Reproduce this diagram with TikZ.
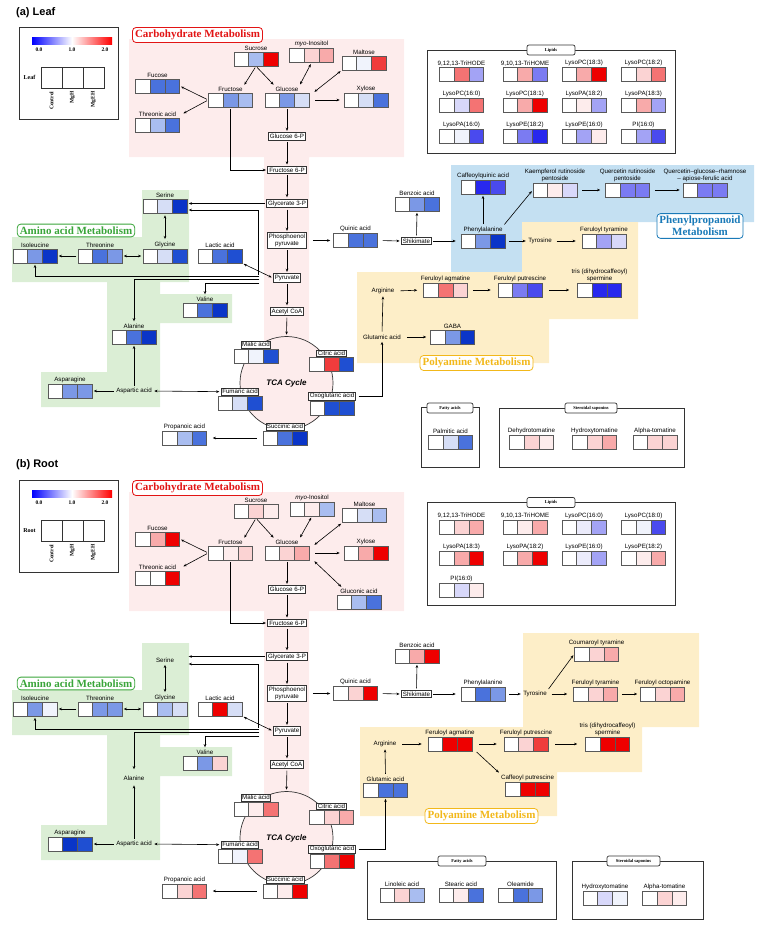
\documentclass[tikz,border=0pt]{standalone}
\usepackage{fontspec}
\setmainfont{Liberation Sans}
\newfontfamily\serifbf{Liberation Serif}
\usetikzlibrary{arrows.meta,positioning,calc}

% background and text colours
\definecolor{pinkbg}{RGB}{253,236,236}
\definecolor{greenbg}{RGB}{219,238,213}
\definecolor{bluebg}{RGB}{196,224,242}
\definecolor{yellowbg}{RGB}{253,238,200}
\definecolor{carbred}{RGB}{226,20,20}
\definecolor{aminogreen}{RGB}{58,165,58}
\definecolor{phenblue}{RGB}{26,122,184}
\definecolor{polyyellow}{RGB}{242,184,26}
% heat map colours
\definecolor{hp1}{RGB}{240,243,252}
\definecolor{hb1}{RGB}{214,222,246}
\definecolor{hb2}{RGB}{169,189,240}
\definecolor{hb3}{RGB}{123,152,230}
\definecolor{hb4}{RGB}{74,114,220}
\definecolor{hb5}{RGB}{31,79,210}
\definecolor{hb6}{RGB}{10,53,200}
\definecolor{hv0}{RGB}{235,235,251}
\definecolor{hv1}{RGB}{216,216,250}
\definecolor{hv2}{RGB}{163,163,245}
\definecolor{hv3}{RGB}{123,123,242}
\definecolor{hv4}{RGB}{74,74,238}
\definecolor{hv5}{RGB}{40,40,238}
\definecolor{hr1}{RGB}{253,236,236}
\definecolor{hr2}{RGB}{251,211,211}
\definecolor{hr3}{RGB}{248,170,170}
\definecolor{hr4}{RGB}{244,115,115}
\definecolor{hr5}{RGB}{240,60,60}
\definecolor{hr6}{RGB}{238,0,0}

% heat map strip: [label style]{name}{x,y}{c1}{c2}{c3}{label}
\newcommand{\hm}[7][lbl]{%
  \fill[#4] ($(#3)+(-22,-7)$) rectangle ++(14.67,14);
  \fill[#5] ($(#3)+(-7.33,-7)$) rectangle ++(14.67,14);
  \fill[#6] ($(#3)+(7.33,-7)$) rectangle ++(14.67,14);
  \draw[hmline] ($(#3)+(-7.33,-7)$) -- ++(0,14) ($(#3)+(7.33,-7)$) -- ++(0,14);
  \node[hmstrip] (#2) at (#3) {};
  \node[#1, above=0.4pt of #2] (#2-l) {#7};
}

\begin{document}
\begin{tikzpicture}[x=1pt,y=-1pt,
    >={Stealth[length=3.2pt,width=2.6pt]},
    lbl/.style={font=\fontsize{6.2}{6.8}\selectfont, inner sep=0.8pt, align=center},
    hmstrip/.style={draw=black!65, line width=0.5pt, minimum width=44pt, minimum height=14pt, inner sep=0pt},
    hmline/.style={draw=black!65, line width=0.5pt},
    metbox/.style={lbl, draw=black!80, fill=white, line width=0.8pt, inner sep=1.4pt},
    tcabox/.style={metbox, inner sep=1pt},
    tcacircle/.style={circle, draw=black!80, line width=0.7pt, fill=pinkbg, minimum size=93pt, inner sep=0pt,
      font=\bfseries\itshape\fontsize{8}{9}\selectfont},
    arr/.style={->, line width=0.6pt, shorten >=1.5pt, shorten <=1.5pt},
    darr/.style={<->, line width=0.6pt, shorten >=1.5pt, shorten <=1.5pt},
    grouptitle/.style={draw, fill=white, rounded corners=3.5pt, line width=0.8pt, inner sep=2.5pt, align=center,
      font=\serifbf\bfseries\fontsize{11}{12}\selectfont},
    boxtab/.style={draw=black!80, fill=white, rounded corners=2pt, line width=0.7pt, minimum height=10pt, inner sep=1pt,
      font=\serifbf\bfseries\fontsize{4.5}{5}\selectfont},
    framebox/.style={draw=black!80, line width=0.8pt, inner sep=0pt},
    panel/.style={font=\bfseries\fontsize{11}{13}\selectfont, anchor=west, inner sep=0pt},
    legtick/.style={font=\serifbf\bfseries\fontsize{5.5}{6}\selectfont, inner sep=0.5pt}]
\useasboundingbox (0,0) rectangle (763,932);

%%%%%%%%%%%%%%%% (a) Leaf %%%%%%%%%%%%%%%%
\node[panel] (tita) at (16,13) {(a) Leaf};

% legend
\node[framebox, minimum width=99pt, minimum height=92pt] (lega) at (68.5,73) {};
\shade[left color=blue, right color=red, middle color=white] (32,37) rectangle (112,44);
\node[legtick] (lega-0) at (39,49.5) {0.0};
\node[legtick] (lega-1) at (72,49.5) {1.0};
\node[legtick] (lega-2) at (105,49.5) {2.0};
\foreach \i in {0,1,2} \draw[black!80, line width=0.6pt] ({41+21*\i},67) rectangle ++(21,21);
\node[legtick, font=\serifbf\bfseries\fontsize{6}{7}\selectfont] (lega-t) at (29.5,77.5) {Leaf};
\foreach \lname [count=\i from 0] in {Control,MgH,MgEH}
  \node[legtick, rotate=90, anchor=east] (lega-c\i) at ({51.5+21*\i},91) {\lname};

% pathway regions
\fill[pinkbg] (129,39) rectangle (404,157) (264,157) rectangle (309,350);
\fill[greenbg] (12,237) rectangle (189,282) (142,190) rectangle (189,237) (107,282) rectangle (160,407)
  (160,294) rectangle (232,323) (41,372) rectangle (107,407);
\fill[bluebg] (451,165) rectangle (754,222) (451,222) rectangle (522,272);
\fill[yellowbg] (522,222) -- (638,222) -- (638,319) -- (549,319) -- (549,363) -- (357,363) -- (357,272) -- (522,272) -- cycle;

% carbohydrates
\hm{sucra}{256,59}{white}{hb2}{hr6}{Sucrose}
\hm{myoa}{311.5,55.5}{white}{hr2}{hr3}{{\itshape myo}-Inositol}
\hm{malta}{364,63}{white}{hp1}{hr5}{Maltose}
\hm{fuca}{157.5,86}{white}{hb4}{hb4}{Fucose}
\hm{fruca}{230.5,100}{white}{hb3}{hb2}{Fructose}
\hm{gluca}{287,100}{white}{hb3}{hb1}{Glucose}
\hm{xyla}{366,100}{white}{hb1}{hb4}{Xylose}
\hm{threa}{157.5,125}{white}{hb2}{hb4}{Threonic acid}
\node[metbox] (g6pa) at (287,136.5) {Glucose 6-P};
\node[metbox] (f6pa) at (287,170) {Fructose 6-P};
\node[metbox] (g3pa) at (287,203.5) {Glycerate 3-P};
\node[metbox] (pepa) at (287,240.5) {Phosphoenol\\pyruvate};
\node[metbox] (pyra) at (287,278) {Pyruvate};
\node[metbox] (acoa) at (287,311.5) {Acetyl CoA};
\coordinate (pyra-o) at ([xshift=-12pt]pyra.west);

% TCA cycle
\node[tcacircle] (tcaa) at (286.5,383) {TCA Cycle};
\hm[tcabox]{malia}{256,356}{white}{hp1}{hb5}{Malic acid}
\hm[tcabox]{cita}{331.5,364.5}{white}{hr5}{hb5}{Citric acid}
\hm[tcabox]{fuma}{240,403}{white}{hb1}{hb5}{Fumaric acid}
\hm[tcabox]{oxoa}{332,408}{white}{hb5}{hb5}{Oxoglutaric acid}
\hm[tcabox]{succa}{285,438}{white}{hb4}{hb6}{Succinic acid}
\hm{propa}{184.5,438}{white}{hb2}{hb4}{Propanoic acid}

% amino acids
\hm{sera}{165,206.5}{white}{hb1}{hb6}{Serine}
\hm{glya}{165,256}{white}{hb1}{hb5}{Glycine}
\hm{thra}{100,256}{white}{hb4}{hb3}{Threonine}
\hm{ilea}{35,256}{white}{hb3}{hb6}{Isoleucine}
\hm{laca}{220,256}{white}{hb4}{hb5}{Lactic acid}
\hm{vala}{205,310}{white}{hb4}{hb6}{Valine}
\hm{alaa}{134,337}{white}{hb4}{hb6}{Alanine}
\hm{asna}{70,391}{white}{hb3}{hb3}{Asparagine}
\node[lbl] (aspa) at (134,391) {Aspartic acid};

% shikimate and phenylpropanoids
\hm{quina}{355.5,240.5}{white}{hb4}{hb4}{Quinic acid}
\node[metbox] (shika) at (416.5,241) {Shikimate};
\hm{benza}{417,204}{white}{hb3}{hb4}{Benzoic acid}
\hm{phea}{483,241}{white}{hb3}{hb6}{Phenylalanine}
\hm{caffa}{483,187}{white}{hv5}{hv4}{Caffeoylquinic acid}
\hm{kaema}{555,190}{white}{hr1}{hv1}{Kaempferol rutinoside\\pentoside}
\hm{quera}{627.5,190}{white}{hv3}{hv3}{Quercetin rutinoside\\pentoside}
\hm{qgra}{705,190}{white}{hv3}{hv3}{Quercetin--glucose--rhamnose\\-- apiose-ferulic acid}
\node[lbl] (tyra) at (540,241) {Tyrosine};
\hm{fetya}{604,241}{white}{hv2}{hv1}{Feruloyl tyramine}

% polyamines
\node[lbl] (arga) at (383,291) {Arginine};
\hm{feaga}{445.5,290}{white}{hr4}{hr2}{Feruloyl agmatine}
\hm{fepua}{520,290}{white}{hv3}{hv4}{Feruloyl putrescine}
\hm{trisa}{599.5,290}{white}{hv5}{hv5}{tris (dihydrocaffeoyl)\\spermine}
\node[lbl] (glua) at (382,337) {Glutamic acid};
\hm{gabaa}{452.5,337}{white}{hb3}{hb6}{GABA}

% group titles
\node[grouptitle, draw=carbred, text=carbred] (carba) at (197.5,35) {Carbohydrate Metabolism};
\node[grouptitle, draw=aminogreen, text=aminogreen] (aminoa) at (76,230.5) {Amino acid Metabolism};
\node[grouptitle, draw=phenblue, text=phenblue] (phena) at (700,226) {Phenylpropanoid\\Metabolism};
\node[grouptitle, draw=polyyellow, text=polyyellow] (polya) at (476.5,363) {Polyamine Metabolism};

% lipids
\node[framebox, minimum width=248pt, minimum height=103pt] (lipa) at (551,101.5) {};
\node[boxtab, minimum width=48pt] (lipa-t) at (551,50) {Lipids};
\hm{hodea}{461.5,74.5}{white}{hr4}{hv2}{9,12,13-TriHODE}
\hm{homea}{525,74.5}{white}{hr3}{hv3}{9,10,13-TriHOME}
\hm{pcaa}{584,74.5}{white}{hr3}{hr6}{LysoPC(18:3)}
\hm{pcba}{643.5,74.5}{white}{hr2}{hr4}{LysoPC(18:2)}
\hm{pcca}{461.5,105}{white}{hv1}{hr4}{LysoPC(16:0)}
\hm{pcda}{525,105}{white}{hr3}{hr6}{LysoPC(18:1)}
\hm{paaa}{584,105}{white}{hr1}{hv2}{LysoPA(18:2)}
\hm{paba}{643.5,105}{white}{hr3}{hv2}{LysoPA(18:3)}
\hm{paca}{461.5,136.5}{white}{hp1}{hv4}{LysoPA(16:0)}
\hm{peaa}{525,136.5}{white}{hv3}{hv5}{LysoPE(18:2)}
\hm{peba}{584,136.5}{white}{hv2}{hr1}{LysoPE(16:0)}
\hm{pia}{643.5,136.5}{white}{hv2}{hv4}{PI(16:0)}

% fatty acids and saponins
\node[framebox, minimum width=58pt, minimum height=60pt] (fata) at (450,437) {};
\node[boxtab, minimum width=46pt] (fata-t) at (450,408) {Fatty acids};
\hm{palma}{450.5,442}{white}{hb1}{hb4}{Palmitic acid}
\node[framebox, minimum width=185pt, minimum height=59pt] (stera) at (591.5,437.5) {};
\node[boxtab, minimum width=52pt] (stera-t) at (591,408) {Steroidal saponins};
\hm{dehya}{531.5,442}{white}{hr2}{hr1}{Dehydrotomatine}
\hm{hydra}{594.5,442}{white}{hr2}{hr3}{Hydroxytomatine}
\hm{alpta}{655,442}{white}{hr2}{hr2}{Alpha-tomatine}

% connectors
\draw[arr] (sucra.south) -- (fruca-l.north east);
\draw[arr] (sucra.south) -- (gluca-l.north west);
\draw[darr] (gluca-l.north east) -- (myoa.south);
\draw[darr] ([xshift=4pt]gluca.north east) -- (malta.south west);
\draw[arr, shorten <=6pt, shorten >=4pt] (gluca.east) -- (xyla.west);
\draw[arr] (fruca.west) -- (fuca.east);
\draw[arr] (fruca.west) -- ([xshift=5pt]threa-l.east);
\draw[arr] (gluca.south) -- (g6pa.north);
\draw[arr] (fruca.south) |- (f6pa.west);
\draw[arr] (g6pa) -- (f6pa);
\draw[arr] (f6pa) -- (g3pa);
\draw[arr] (g3pa) -- (pepa);
\draw[arr] (pepa) -- (pyra);
\draw[arr] (pyra) -- (acoa);
\draw[arr] (acoa) -- (tcaa.north);
\draw[arr] (g3pa.west) -- (g3pa.west -| sera.east);
\draw[arr] ([xshift=-3pt,yshift=2pt]pyra-o) |- ([yshift=-3.5pt]sera.east);
\draw[arr] ([yshift=2pt]pyra-o) -| (ilea.south);
\draw[arr] ([yshift=-1.5pt]pyra-o) -| (alaa-l.north);
\draw[arr] ([yshift=-5pt]pyra-o) -| (vala-l.north);
\draw[darr] (laca.south east) -- (pyra.west);
\draw[darr] (sera.south) -- (glya-l.north);
\draw[darr] (glya.west) -- (thra.east);
\draw[arr] (thra.west) -- (ilea.east);
\draw[arr] (aspa.north) -- (alaa.south);
\draw[arr] (aspa.west) -- (asna.east);
\draw[darr] (aspa.east) -- (fuma-l.west);
\draw[arr, shorten <=6pt, shorten >=6pt] (succa.west) -- (propa.east);
\draw[arr, shorten <=6pt, shorten >=3pt] (pepa.east) -- (quina.west);
\draw[arr, shorten <=5pt] (quina.east) -- (shika.west);
\draw[arr] (shika.north) -- (benza.south);
\draw[arr, shorten >=5pt] (shika.east) -- (phea.west);
\draw[arr] (phea-l.north) -- (caffa.south);
\draw[arr] (phea-l.north east) -- (kaema.west);
\draw[arr, shorten <=5pt, shorten >=5pt] (kaema.east) -- (quera.west);
\draw[arr, shorten <=5pt, shorten >=3pt] (quera.east) -- (qgra.west);
\draw[arr, shorten <=4pt] (phea.east) -- (tyra.west);
\draw[arr, shorten <=4pt, shorten >=6pt] (tyra.east) -- (fetya.west);
\draw[arr, shorten <=5pt, shorten >=6pt] (arga.east) -- (feaga.west);
\draw[arr, shorten <=5pt, shorten >=7pt] (feaga.east) -- (fepua.west);
\draw[arr, shorten <=7pt, shorten >=8pt] (fepua.east) -- (trisa.west);
\draw[arr, shorten <=2pt] (glua.north) -- (arga.south);
\draw[arr, shorten <=5pt, shorten >=4pt] (glua.east) -- (gabaa.west);
\draw[arr, shorten <=3pt] (oxoa-l.east) -| (glua.south);

%%%%%%%%%%%%%%%% (b) Root %%%%%%%%%%%%%%%%
\begin{scope}[yshift=-453pt]
\node[panel] (titb) at (16,12) {(b) Root};

% legend
\node[framebox, minimum width=99pt, minimum height=92pt] (legb) at (68.5,73) {};
\shade[left color=blue, right color=red, middle color=white] (32,37) rectangle (112,44);
\node[legtick] (legb-0) at (39,49.5) {0.0};
\node[legtick] (legb-1) at (72,49.5) {1.0};
\node[legtick] (legb-2) at (105,49.5) {2.0};
\foreach \i in {0,1,2} \draw[black!80, line width=0.6pt] ({41+21*\i},67) rectangle ++(21,21);
\node[legtick, font=\serifbf\bfseries\fontsize{6}{7}\selectfont] (legb-t) at (29.5,77.5) {Root};
\foreach \lname [count=\i from 0] in {Control,MgH,MgEH}
  \node[legtick, rotate=90, anchor=east] (legb-c\i) at ({51.5+21*\i},91) {\lname};

% pathway regions
\fill[pinkbg] (129,39) rectangle (404,158) (264,158) rectangle (309,350);
\fill[greenbg] (12,237) rectangle (189,282) (142,190) rectangle (189,237) (107,282) rectangle (160,407)
  (160,294) rectangle (232,323) (41,372) rectangle (107,407);
\fill[yellowbg] (523,180) -- (699,180) -- (699,274) -- (642,274) -- (642,319) -- (557,319) -- (557,363)
  -- (360,363) -- (360,274) -- (523,274) -- cycle;

% carbohydrates
\hm{sucrb}{256,58}{white}{hr2}{hr1}{Sucrose}
\hm{myob}{312,56}{white}{hr1}{hb2}{{\itshape myo}-Inositol}
\hm{maltb}{364.5,62.5}{white}{hb1}{hb2}{Maltose}
\hm{fucb}{157.5,86}{white}{hr3}{hr6}{Fucose}
\hm{frucb}{230.5,100}{white}{hr1}{hr2}{Fructose}
\hm{glucb}{287,100}{white}{hr2}{hr3}{Glucose}
\hm{xylb}{366,100}{white}{hr3}{hr6}{Xylose}
\hm{threb}{157.5,125}{white}{white}{hr6}{Threonic acid}
\hm{glcnb}{359,149}{white}{hb2}{hb4}{Gluconic acid}
\node[metbox] (g6pb) at (287,136.5) {Glucose 6-P};
\node[metbox] (f6pb) at (287,170) {Fructose 6-P};
\node[metbox] (g3pb) at (287,203.5) {Glycerate 3-P};
\node[metbox] (pepb) at (287,240.5) {Phosphoenol\\pyruvate};
\node[metbox] (pyrb) at (287,278) {Pyruvate};
\node[metbox] (acob) at (287,311.5) {Acetyl CoA};
\coordinate (pyrb-o) at ([xshift=-12pt]pyrb.west);

% TCA cycle
\node[tcacircle] (tcab) at (286.5,385) {TCA Cycle};
\hm[tcabox]{malib}{256,356}{white}{hr1}{hr4}{Malic acid}
\hm[tcabox]{citb}{331.5,364.5}{white}{hr2}{hr3}{Citric acid}
\hm[tcabox]{fumb}{240,403}{white}{hp1}{hr4}{Fumaric acid}
\hm[tcabox]{oxob}{332,408}{white}{hr4}{hr6}{Oxoglutaric acid}
\hm[tcabox]{succb}{285,438}{white}{hr1}{hr6}{Succinic acid}
\hm{propb}{184.5,438}{white}{hr2}{hr4}{Propanoic acid}

% amino acids
\node[lbl, minimum width=44pt] (serb) at (165,207) {Serine};
\hm{glyb}{165,256}{white}{hb2}{hb1}{Glycine}
\hm{thrb}{100,256}{white}{hb3}{hb3}{Threonine}
\hm{ileb}{35,256}{white}{hb3}{hp1}{Isoleucine}
\hm{lacb}{220,256}{white}{hr6}{hb1}{Lactic acid}
\hm{valb}{205,310}{white}{hb3}{hr2}{Valine}
\node[lbl] (alab) at (134,325) {Alanine};
\hm{asnb}{70,391}{white}{hb6}{hb5}{Asparagine}
\node[lbl] (aspb) at (134,391) {Aspartic acid};

% shikimate and phenylpropanoids
\hm{quinb}{355.5,240.5}{white}{hr2}{hr6}{Quinic acid}
\node[metbox] (shikb) at (416.5,241) {Shikimate};
\hm{benzb}{417,203}{white}{hr3}{hr6}{Benzoic acid}
\hm{pheb}{483,241}{white}{hb4}{hb3}{Phenylalanine}
\node[lbl] (tyrb) at (535,241) {Tyrosine};
\hm{cotyb}{596.5,201}{white}{hr2}{hr3}{Coumaroyl tyramine}
\hm{fetyb}{595.5,241}{white}{hr2}{hr3}{Feruloyl tyramine}
\hm{feocb}{662.5,241}{white}{hr2}{hr3}{Feruloyl octopamine}

% polyamines
\node[lbl] (argb) at (385,291) {Arginine};
\hm{feagb}{450,291}{white}{hr6}{hr6}{Feruloyl agmatine}
\hm{fepub}{526,291}{white}{hr2}{hr5}{Feruloyl putrescine}
\hm{trisb}{607.5,291}{white}{hr6}{hr6}{tris (dihydrocaffeoyl)\\spermine}
\hm{capub}{527.5,336}{white}{hr6}{hr6}{Caffeoyl putrescine}
\hm{glub}{385.5,337}{white}{hb4}{hb4}{Glutamic acid}

% group titles
\node[grouptitle, draw=carbred, text=carbred] (carbb) at (197.5,35) {Carbohydrate Metabolism};
\node[grouptitle, draw=aminogreen, text=aminogreen] (aminob) at (76,230.5) {Amino acid Metabolism};
\node[grouptitle, draw=polyyellow, text=polyyellow] (polyb) at (481.5,363) {Polyamine Metabolism};

% lipids
\node[framebox, minimum width=248pt, minimum height=103pt] (lipb) at (551,101) {};
\node[boxtab, minimum width=48pt] (lipb-t) at (551,49.5) {Lipids};
\hm{hodeb}{461.5,74}{white}{hr2}{hr3}{9,12,13-TriHODE}
\hm{homeb}{525,74}{white}{hr1}{hr3}{9,10,13-TriHOME}
\hm{pcab}{584,74}{white}{hv0}{hv2}{LysoPC(16:0)}
\hm{pcbb}{643.5,74}{white}{hp1}{hv4}{LysoPC(18:0)}
\hm{paab}{461.5,105.5}{white}{hr3}{hr6}{LysoPA(18:3)}
\hm{pabb}{525,105.5}{white}{hr3}{hr6}{LysoPA(18:2)}
\hm{peab}{584,105.5}{white}{hv0}{hv2}{LysoPE(16:0)}
\hm{pebb}{643.5,105.5}{white}{hr1}{hr3}{LysoPE(18:2)}
\hm{pib}{461.5,137}{white}{hv1}{hr1}{PI(16:0)}

% fatty acids and saponins
\node[framebox, minimum width=189pt, minimum height=58pt] (fatb) at (461.5,437) {};
\node[boxtab, minimum width=48pt] (fatb-t) at (462,408) {Fatty acids};
\hm{linob}{402,442}{white}{hr2}{hb2}{Linoleic acid}
\hm{steab}{461,442}{white}{hr1}{hb4}{Stearic acid}
\hm{oleab}{520.5,442}{white}{hb4}{hb3}{Oleamide}
\node[framebox, minimum width=131pt, minimum height=58pt] (sterb) at (637.5,437) {};
\node[boxtab, minimum width=53pt] (sterb-t) at (633.5,408) {Steroidal saponins};
\hm{hydrb}{605,445}{white}{hv1}{hp1}{Hydroxytomatine}
\hm{alptb}{664.5,445}{white}{hr2}{hr1}{Alpha-tomatine}

% connectors
\draw[arr] (sucrb.south) -- (frucb-l.north east);
\draw[arr] (sucrb.south) -- (glucb-l.north west);
\draw[darr] (glucb-l.north east) -- (myob.south);
\draw[darr] ([xshift=4pt]glucb.north east) -- (maltb.south west);
\draw[arr, shorten <=6pt, shorten >=4pt] (glucb.east) -- (xylb.west);
\draw[darr] ([xshift=4pt]glucb.south east) -- ([xshift=3pt]glcnb-l.north west);
\draw[arr] (frucb.west) -- (fucb.east);
\draw[arr] (frucb.west) -- ([xshift=5pt]threb-l.east);
\draw[arr] (glucb.south) -- (g6pb.north);
\draw[arr] (frucb.south) |- (f6pb.west);
\draw[arr] (g6pb) -- (f6pb);
\draw[arr] (f6pb) -- (g3pb);
\draw[arr] (g3pb) -- (pepb);
\draw[arr] (pepb) -- (pyrb);
\draw[arr] (pyrb) -- (acob);
\draw[arr] (acob) -- (tcab.north);
\draw[arr] (g3pb.west) -- (g3pb.west -| serb.east);
\draw[arr] ([xshift=-3pt,yshift=2pt]pyrb-o) |- ([yshift=-4pt]serb.east);
\draw[arr] ([yshift=2pt]pyrb-o) -| (ileb.south);
\draw[arr] ([yshift=-1.5pt]pyrb-o) -| ([yshift=4pt]alab.north);
\draw[arr] ([yshift=-5pt]pyrb-o) -| (valb-l.north);
\draw[darr] (lacb.south east) -- (pyrb.west);
\draw[darr] (serb.south) -- (glyb-l.north);
\draw[darr] (glyb.west) -- (thrb.east);
\draw[arr] (thrb.west) -- (ileb.east);
\draw[arr, shorten >=4pt] (aspb.north) -- (alab.south);
\draw[arr] (aspb.west) -- (asnb.east);
\draw[darr] (aspb.east) -- (fumb-l.west);
\draw[arr, shorten <=6pt, shorten >=6pt] (succb.west) -- (propb.east);
\draw[arr, shorten <=6pt, shorten >=3pt] (pepb.east) -- (quinb.west);
\draw[arr, shorten <=5pt] (quinb.east) -- (shikb.west);
\draw[arr] (shikb.north) -- (benzb.south);
\draw[arr, shorten >=5pt] (shikb.east) -- (pheb.west);
\draw[arr, shorten <=4pt] (pheb.east) -- (tyrb.west);
\draw[arr] (tyrb.north east) -- (cotyb.west);
\draw[arr, shorten <=4pt, shorten >=6pt] (tyrb.east) -- (fetyb.west);
\draw[arr, shorten <=4pt, shorten >=3pt] (fetyb.east) -- (feocb.west);
\draw[arr, shorten <=5pt, shorten >=6pt] (argb.east) -- (feagb.west);
\draw[arr, shorten <=7pt, shorten >=7pt] (feagb.east) -- (fepub.west);
\draw[arr, shorten <=7pt, shorten >=8pt] (fepub.east) -- (trisb.west);
\draw[arr, shorten <=6pt] ([yshift=-4pt]feagb.east) -- (capub-l.north west);
\draw[arr, shorten <=2pt] (glub-l.north) -- (argb.south);
\draw[arr, shorten <=3pt] (oxob-l.east) -| (glub.south);
\end{scope}
\end{tikzpicture}
\end{document}
